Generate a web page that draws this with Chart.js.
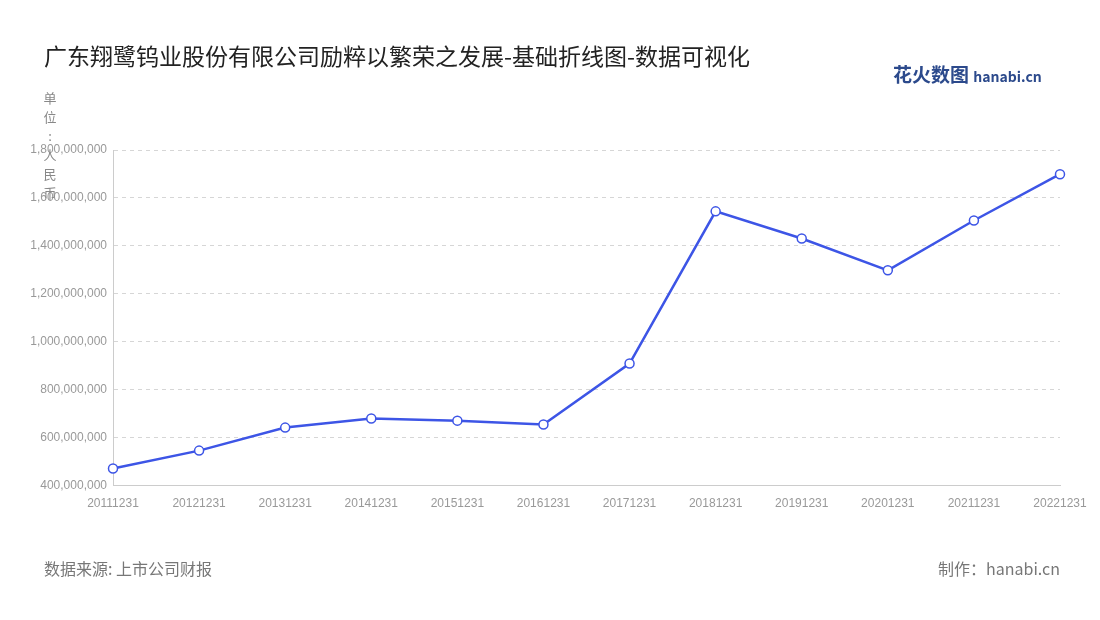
<!DOCTYPE html>
<html><head><meta charset="utf-8">
<script src="https://cdn.jsdelivr.net/npm/chart.js@4"></script>
<style>
body{margin:0;width:1100px;height:620px;background:#fff;font-family:"Noto Sans CJK SC","Noto Sans",sans-serif;position:relative;overflow:hidden}
#title{position:absolute;left:44px;top:38px;font-size:23px;color:#222}
#unit{position:absolute;left:43px;top:88px;font-size:13px;color:#888;line-height:19px;width:14px;text-align:center}
#logo{position:absolute;left:893px;top:60px;font-size:19px;color:#2c4a8c;font-weight:bold}
#logo span{font-size:14px;color:#2c4a8c}
.foot{position:absolute;top:556px;font-size:16px;color:#777}
#wrap{position:absolute;left:0;top:0;width:1100px;height:620px}
</style></head><body>
<div id="wrap"><canvas id="c"></canvas></div>
<div id="title">广东翔鹭钨业股份有限公司励粹以繁荣之发展-基础折线图-数据可视化</div>
<div id="unit">单<br>位<br>:<br>人<br>民<br>币</div>
<div id="logo">花火数图 <span>hanabi.cn</span></div>
<div class="foot" style="left:44px">数据来源: 上市公司财报</div>
<div class="foot" style="right:40px">制作：hanabi.cn</div>
<script>
// data
const years = ["20111231","20121231","20131231","20141231","20151231","20161231","20171231","20181231","20191231","20201231","20211231","20221231"];
const values = [471000000,546000000,642000000,680000000,671000000,655000000,909000000,1544000000,1431000000,1298000000,1506000000,1699000000];

new Chart(document.getElementById('c'), {
    type: 'line',
    data: {
        labels: years,
        datasets: [{
            data: values,
            borderColor: '#3d55e6',
            borderWidth: 2.5,
            pointBackgroundColor: '#fff',
            pointBorderColor: '#3d55e6',
            pointBorderWidth: 1.5,
            pointRadius: 4.5,
            tension: 0
        }]
    },
    options: {
        responsive: true,
        maintainAspectRatio: false,
        animation: false,
        layout: { padding: { left: 20, top: 150, right: 40, bottom: 106 } },
        plugins: { legend: { display: false }, tooltip: { enabled: false } },
        scales: {
            x: {
                grid: { display: false },
                border: { color: '#ccc' },
                ticks: { color: '#999', font: { size: 12 }, maxRotation: 0, autoSkip: false }
            },
            y: {
                min: 400000000, max: 1800000000,
                afterFit: s => { s.width = 93; },
                grid: { color: '#d6d6d6', tickLength: 0 },
                border: { display: true, dash: [4, 4], color: '#ccc' },
                ticks: {
                    stepSize: 200000000, color: '#999', font: { size: 12 }, padding: 6,
                    callback: v => v.toLocaleString('en-US')
                }
            }
        }
    }
});
</script>
</body></html>
